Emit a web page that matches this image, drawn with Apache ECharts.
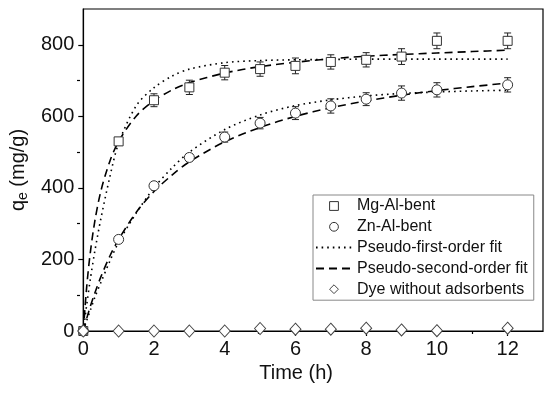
<!DOCTYPE html>
<html>
<head>
<meta charset="utf-8">
<script src="https://cdn.jsdelivr.net/npm/echarts@6/dist/echarts.min.js"></script>
<style>
html,body{margin:0;padding:0;background:#fff;}
#chart{width:550px;height:395px;}
</style>
</head>
<body>
<div id="chart"></div>
<script>
// ---- data ----
const timePts = [0, 1, 2, 3, 4, 5, 6, 7, 8, 9, 10, 12];
const mgValues = [0, 530, 645, 681, 722, 732, 741, 752, 758, 767, 811, 811];
const mgErrors = [0, 10, 18, 20, 20, 20, 22, 20, 20, 22, 22, 22];
const znValues = [0, 256, 406, 485, 542, 581, 609, 629, 648, 665, 674, 688];
const znErrors = [0, 6, 8, 10, 14, 16, 18, 20, 18, 20, 20, 20];
const dyeValues = [0, 0, 0, 0, 0, 7, 5, 5, 8, 3, 1, 8];

const fitTime = [0, 0.1, 0.2, 0.33, 0.5, 0.75, 1, 1.5, 2, 2.5, 3, 4, 5, 6, 7, 8, 9, 10, 11, 12];
const mgPFO = [0, 75, 145, 225, 315, 430, 525, 630, 680, 712, 732, 750, 756, 758, 759, 760, 760, 760, 760, 760];
const mgPSO = [0, 127, 220, 309, 392, 474, 530, 601, 644, 673, 694, 721, 739, 751, 761, 768, 773, 777, 781, 785];
const znPFO = [0, 30, 58, 95, 136, 195, 248, 330, 400, 455, 500, 563, 604, 630, 646, 657, 664, 668, 671, 673];
const znPSO = [0, 36, 69, 107, 152, 209, 256, 332, 390, 435, 473, 529, 569, 600, 624, 643, 659, 672, 683, 693];

const xMajorTicks = [0, 2, 4, 6, 8, 10, 12];
const xMinorTicks = [1, 3, 5, 7, 9, 11];
const yMajorTicks = [0, 200, 400, 600, 800];
const yMinorTicks = [100, 300, 500, 700];

const legendNames = ['Mg-Al-bent', 'Zn-Al-bent', 'Pseudo-first-order fit', 'Pseudo-second-order fit', 'Dye without adsorbents'];

// ---- helpers ----
const pair = (xs, ys) => xs.map((x, i) => [x, ys[i]]);
const triple = (xs, ys, es) => xs.map((x, i) => [x, ys[i], es[i]]);

function errorRender(params, api) {
  const x = api.value(0), y = api.value(1), e = api.value(2);
  if (!e) return null;
  const top = api.coord([x, y + e]);
  const bot = api.coord([x, y - e]);
  const hw = 3.5;
  const st = { stroke: '#222', lineWidth: 1 };
  return {
    type: 'group',
    children: [
      { type: 'line', shape: { x1: top[0], y1: top[1], x2: bot[0], y2: bot[1] }, style: st },
      { type: 'line', shape: { x1: top[0] - hw, y1: top[1], x2: top[0] + hw, y2: top[1] }, style: st },
      { type: 'line', shape: { x1: bot[0] - hw, y1: bot[1], x2: bot[0] + hw, y2: bot[1] }, style: st }
    ]
  };
}

const FONT = 'Liberation Sans, Arial, sans-serif';
const markerStyle = { color: '#fff', borderColor: '#333', borderWidth: 1 };
const dotted = { color: '#000', width: 1.6, type: [1.6, 4] };
const dashed = { color: '#000', width: 1.6, type: [8, 5] };
const gridBox = { left: 80, top: 9, right: 7, bottom: 64 };

const chart = echarts.init(document.getElementById('chart'), null, { renderer: 'canvas' });

chart.setOption({
  animation: false,
  backgroundColor: '#fff',
  textStyle: { fontFamily: FONT },
  grid: [
    Object.assign({ show: true, borderColor: '#000', borderWidth: 1.2, backgroundColor: 'transparent' }, gridBox),
    Object.assign({ show: false }, gridBox)
  ],
  xAxis: [
    {
      gridIndex: 0, type: 'value', min: 0, max: 13, interval: 1, position: 'bottom',
      name: 'Time (h)', nameLocation: 'middle', nameGap: 30,
      nameTextStyle: { fontSize: 20, color: '#111', fontFamily: FONT, padding: [0, 34, 0, 0] },
      axisLine: { show: true, onZero: false, lineStyle: { color: '#000', width: 1.2 } },
      axisTick: { show: true, length: 5, customValues: xMajorTicks, lineStyle: { color: '#000', width: 1.2 } },
      axisLabel: { show: true, customValues: xMajorTicks, margin: 8, fontSize: 20, color: '#111', fontFamily: FONT },
      splitLine: { show: false }
    },
    {
      gridIndex: 1, type: 'value', min: 0, max: 13, interval: 1, position: 'bottom',
      axisLine: { show: false, onZero: false },
      axisTick: { show: true, length: 3, customValues: xMinorTicks, lineStyle: { color: '#000', width: 1.2 } },
      axisLabel: { show: false },
      splitLine: { show: false }
    }
  ],
  yAxis: [
    {
      gridIndex: 0, type: 'value', min: 0, max: 900, interval: 100, position: 'left',
      name: 'q{sub|e} (mg/g)', nameLocation: 'middle', nameGap: 50, nameRotate: 90,
      nameTextStyle: {
        fontSize: 20, color: '#111', fontFamily: FONT,
        rich: { sub: { fontSize: 14, color: '#111', fontFamily: FONT, padding: [10, 0, 0, 0] } }
      },
      axisLine: { show: true, onZero: false, lineStyle: { color: '#000', width: 1.2 } },
      axisTick: { show: true, length: 5, customValues: yMajorTicks, lineStyle: { color: '#000', width: 1.2 } },
      axisLabel: { show: true, customValues: yMajorTicks, margin: 9, fontSize: 20, color: '#111', fontFamily: FONT },
      splitLine: { show: false }
    },
    {
      gridIndex: 1, type: 'value', min: 0, max: 900, interval: 100, position: 'left',
      axisLine: { show: false, onZero: false },
      axisTick: { show: true, length: 3, customValues: yMinorTicks, lineStyle: { color: '#000', width: 1.2 } },
      axisLabel: { show: false },
      splitLine: { show: false }
    }
  ],
  legend: {
    left: 313, top: 195, orient: 'vertical', align: 'left',
    itemWidth: 36, itemHeight: 11, itemGap: 4.8,
    padding: [3, 6, 3, 2],
    borderColor: '#888', borderWidth: 1, backgroundColor: '#fff',
    selectedMode: false,
    textStyle: { fontSize: 16, color: '#111', fontFamily: FONT, lineHeight: 16 },
    data: [
      { name: legendNames[0], itemStyle: { opacity: 1, borderWidth: 1 } },
      { name: legendNames[1], itemStyle: { opacity: 1, borderWidth: 1 } },
      { name: legendNames[2], itemStyle: { opacity: 0 } },
      { name: legendNames[3], itemStyle: { opacity: 0 } },
      { name: legendNames[4], itemStyle: { opacity: 1, borderWidth: 1 } }
    ]
  },
  series: [
    { type: 'custom', name: 'errMg', renderItem: errorRender, data: triple(timePts, mgValues, mgErrors), z: 3, silent: true },
    { type: 'custom', name: 'errZn', renderItem: errorRender, data: triple(timePts, znValues, znErrors), z: 3, silent: true },
    { type: 'line', name: legendNames[2], data: pair(fitTime, mgPFO), smooth: 0.3, symbol: 'none', lineStyle: dotted, itemStyle: { color: '#000' }, z: 2 },
    { type: 'line', name: legendNames[2], data: pair(fitTime, znPFO), smooth: 0.3, symbol: 'none', lineStyle: dotted, itemStyle: { color: '#000' }, z: 2 },
    { type: 'line', name: legendNames[3], data: pair(fitTime, mgPSO), smooth: 0.3, symbol: 'none', lineStyle: dashed, itemStyle: { color: '#000' }, z: 2 },
    { type: 'line', name: legendNames[3], data: pair(fitTime, znPSO), smooth: 0.3, symbol: 'none', lineStyle: dashed, itemStyle: { color: '#000' }, z: 2 },
    { type: 'line', name: legendNames[0], data: pair(timePts, mgValues), symbol: 'rect', symbolSize: 9, showSymbol: true,
      lineStyle: { width: 0, opacity: 0 }, itemStyle: markerStyle, z: 5 },
    { type: 'line', name: legendNames[1], data: pair(timePts, znValues), symbol: 'circle', symbolSize: 10, showSymbol: true,
      lineStyle: { width: 0, opacity: 0 }, itemStyle: markerStyle, z: 5 },
    { type: 'line', name: legendNames[4], data: pair(timePts, dyeValues), symbol: 'diamond', symbolSize: [11, 12], showSymbol: true,
      lineStyle: { width: 0, opacity: 0 }, itemStyle: { color: '#fff', borderColor: '#444', borderWidth: 1 }, z: 6 }
  ]
});
</script>
</body>
</html>
